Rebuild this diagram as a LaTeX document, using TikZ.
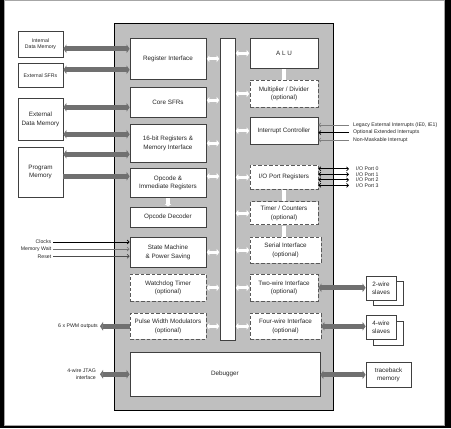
\documentclass[tikz,border=0pt]{standalone}
\usepackage{fontspec}
\setmainfont{Liberation Sans}
\usetikzlibrary{arrows.meta, positioning}

\newcommand{\blkfont}{\fontsize{6.3}{8.3}\selectfont}
\newcommand{\lblfont}{\fontsize{5.2}{6.6}\selectfont}
\newcommand{\pinfont}{\fontsize{5.2}{5.8}\selectfont}

\begin{document}
\begin{tikzpicture}[x=1pt, y=-1pt,
    blk/.style={draw=black!75, fill=white, line width=0.8pt, align=center,
      inner sep=1pt, font=\blkfont, text=black!85},
    optblk/.style={blk, draw=black!65, dash pattern=on 3.5pt off 2pt},
    extblk/.style={blk, font=\lblfont},
    lbl/.style={font=\lblfont, text=black!85, inner sep=1.5pt, align=right},
    pin/.style={font=\pinfont, text=black!85, inner ysep=1pt, inner xsep=4pt},
    bigarrow/.style={draw=black!56, line width=5pt,
      arrows={Triangle[width=8.5pt,length=3pt]-Triangle[width=8.5pt,length=3pt]}},
    bigarrowr/.style={bigarrow, arrows={-Triangle[width=8.5pt,length=3pt]}},
    busarrow/.style={draw=white, line width=3.2pt, shorten <=0.4pt, shorten >=0.4pt,
      arrows={Triangle[width=6.5pt,length=2.5pt]-Triangle[width=6.5pt,length=2.5pt]}},
    busbar/.style={draw=white, line width=3.2pt, shorten <=0.4pt, shorten >=0.4pt},
    wire/.style={line width=0.7pt, arrows={-Straight Barb[length=2pt,width=4pt]}},
    wire2/.style={wire, arrows={Straight Barb[length=2pt,width=4pt]-Straight Barb[length=2pt,width=4pt]}}
  ]
  % Frame
  \fill[black] (0,0) rectangle (451,428);
  \filldraw[fill=white, draw=black!35, line width=0.6pt] (4,0) rectangle (444,425);
  % Core
  \filldraw[fill=black!25, draw=black, line width=0.9pt] (114,23) rectangle (333,410);

  % Memories outside the core
  \node[extblk, minimum width=45pt, minimum height=26pt] (intmem) at (40.5,44) {Internal\\Data Memory};
  \node[extblk, minimum width=45pt, minimum height=24pt] (extsfr) at (40.5,75) {External SFRs};
  \node[blk, minimum width=45pt, minimum height=42pt] (extdata) at (40.5,119) {External\\Data Memory};
  \node[blk, minimum width=45pt, minimum height=50pt] (progmem) at (40.5,172) {Program\\Memory};

  % Left column
  \node[blk, minimum width=76pt, minimum height=41pt] (regif) at (168,58.5) {Register Interface};
  \node[blk, minimum width=76pt, minimum height=30pt] (coresfr) at (168,102) {Core SFRs};
  \node[blk, minimum width=76pt, minimum height=38pt] (reg16) at (168,143) {16-bit Registers \&\\Memory Interface};
  \node[blk, minimum width=76pt, minimum height=29pt] (opcode) at (168,182.5) {Opcode \&\\Immediate Registers};
  \node[blk, minimum width=76pt, minimum height=20pt] (opdec) at (168,217) {Opcode Decoder};
  \node[blk, minimum width=76pt, minimum height=30pt] (fsm) at (168,252) {State Machine\\\& Power Saving};
  \node[optblk, minimum width=76pt, minimum height=27pt] (wdt) at (168,287.5) {Watchdog Timer\\(optional)};
  \node[optblk, minimum width=76pt, minimum height=26pt] (pwm) at (168,326) {Pulse Width Modulators\\(optional)};
  \node[blk, minimum width=190pt, minimum height=44pt] (debug) at (225,374) {Debugger};

  % Internal bus
  \node[draw=black!75, fill=white, line width=0.8pt, minimum width=15pt, minimum height=302pt, inner sep=0pt] (bus) at (227.5,189) {};

  % Right column
  \node[blk, minimum width=68pt, minimum height=30pt] (alu) at (284,53) {A L U};
  \node[optblk, minimum width=68pt, minimum height=27pt] (mul) at (284,93.5) {Multiplier / Divider\\(optional)};
  \node[blk, minimum width=68pt, minimum height=27pt] (intc) at (284,130.5) {Interrupt Controller};
  \node[optblk, minimum width=68pt, minimum height=24pt] (ioport) at (284,177) {I/O Port Registers};
  \node[optblk, minimum width=68pt, minimum height=23pt] (timer) at (284,213) {Timer / Counters\\(optional)};
  \node[optblk, minimum width=71pt, minimum height=26pt] (serial) at (285.5,250) {Serial Interface\\(optional)};
  \node[optblk, minimum width=68pt, minimum height=27pt] (twowire) at (284,287.5) {Two-wire Interface\\(optional)};
  \node[optblk, minimum width=71pt, minimum height=26pt] (fourwire) at (285.5,326) {Four-wire Interface\\(optional)};

  % Slaves and traceback memory
  \node[blk, minimum width=30pt, minimum height=24pt] (slaves2back) at (388,293) {};
  \node[blk, minimum width=30pt, minimum height=24pt] (slaves2) at (381,288) {2-wire\\slaves};
  \node[blk, minimum width=30pt, minimum height=24pt] (slaves4back) at (388,333.5) {};
  \node[blk, minimum width=30pt, minimum height=24pt] (slaves4) at (381,327) {4-wire\\slaves};
  \node[blk, minimum width=45pt, minimum height=25pt] (trace) at (388.5,374.5) {traceback\\memory};

  % Pin labels
  \node[lbl, anchor=east] (clk) at (53,241.7) {Clocks};
  \node[lbl, anchor=east] (memwait) at (53,248.8) {Memory Wait};
  \node[lbl, anchor=east] (rst) at (53,256) {Reset};
  \node[lbl, anchor=east, inner xsep=2pt] (pwmout) at (100,326) {6 x PWM outputs};
  \node[lbl, anchor=east, inner xsep=4pt] (jtag) at (100,374) {4-wire JTAG\\interface};
  \node[pin, anchor=west] (irqleg) at (349,124.7) {Legacy External Interrupts (IE0, IE1)};
  \node[pin, anchor=west] (irqopt) at (349,132.3) {Optional Extended Interrupts};
  \node[pin, anchor=west] (irqnmi) at (349,139.7) {Non-Maskable Interrupt};
  \node[pin, anchor=west, inner xsep=7pt] (port0) at (349,168.5) {I/O Port 0};
  \node[pin, anchor=west, inner xsep=7pt] (port1) at (349,174) {I/O Port 1};
  \node[pin, anchor=west, inner xsep=7pt] (port2) at (349,179.5) {I/O Port 2};
  \node[pin, anchor=west, inner xsep=7pt] (port3) at (349,185) {I/O Port 3};

  % Memory buses
  \draw[bigarrow] ([yshift=-4.5]intmem.east) -- ([yshift=-4.5]intmem.east -| regif.west);
  \draw[bigarrow] ([yshift=5.5]extsfr.east) -- ([yshift=5.5]extsfr.east -| regif.west);
  \draw[bigarrow] ([yshift=-5]coresfr.west -| extdata.east) -- ([yshift=-5]coresfr.west);
  \draw[bigarrow] ([yshift=9]reg16.west -| extdata.east) -- ([yshift=9]reg16.west);
  \draw[bigarrow] ([yshift=-11]reg16.west -| progmem.east) -- ([yshift=-11]reg16.west);
  \draw[bigarrowr] ([yshift=6.5]opcode.west -| progmem.east) -- ([yshift=6.5]opcode.west);
  \draw[bigarrowr] (pwm.west) -- (pwmout.east);
  \draw[bigarrow] (jtag.east) -- (debug.west);
  \draw[bigarrow] (twowire.east) -- (twowire.east -| slaves2.west);
  \draw[bigarrow] (fourwire.east) -- (fourwire.east -| slaves4.west);
  \draw[bigarrow] (trace.west -| debug.east) -- (trace.west);

  % Bus links, left column
  \draw[busarrow] (regif.east) -- (regif.east -| bus.west);
  \draw[busarrow] ([yshift=2]coresfr.east) -- ([yshift=2]coresfr.east -| bus.west);
  \draw[busarrow] (reg16.east) -- (reg16.east -| bus.west);
  \draw[busarrow] ([yshift=6.5]opcode.east) -- ([yshift=6.5]opcode.east -| bus.west);
  \draw[busarrow] (fsm.east) -- (fsm.east -| bus.west);
  \draw[busarrow] (wdt.east) -- (wdt.east -| bus.west);
  \draw[busarrow] (pwm.east) -- (pwm.east -| bus.west);
  % Bus links, right column
  \draw[busarrow] (alu.west -| bus.east) -- (alu.west);
  \draw[busarrow] (mul.west -| bus.east) -- (mul.west);
  \draw[busarrow] (intc.west -| bus.east) -- (intc.west);
  \draw[busarrow] (ioport.west -| bus.east) -- (ioport.west);
  \draw[busarrow] (timer.west -| bus.east) -- (timer.west);
  \draw[busarrow] (serial.west -| bus.east) -- (serial.west);
  \draw[busarrow] (twowire.west -| bus.east) -- (twowire.west);
  \draw[busarrow] (fourwire.west -| bus.east) -- (fourwire.west);
  % Vertical links
  \draw[busarrow, arrows={-Triangle[width=6.5pt,length=2.5pt]}] (opcode.south) -- (opdec.north);
  \draw[busbar] (mul.north) -- (alu.south);
  \draw[busbar] (ioport.south) -- (timer.north);
  \draw[busbar] (timer.south) -- (timer.south |- serial.north);

  % Control inputs
  \draw[wire] (clk.east) -- (clk.east -| fsm.west);
  \draw[wire, draw=black!55] (memwait.east) -- (memwait.east -| fsm.west);
  \draw[wire, draw=black!70] (rst.east) -- (rst.east -| fsm.west);
  \draw[wire, draw=black!50] (irqleg.west) -- (irqleg.west -| intc.east);
  \draw[wire] (irqopt.west) -- (irqopt.west -| intc.east);
  \draw[wire, draw=black!50] (irqnmi.west) -- (irqnmi.west -| intc.east);
  \draw[wire2] (port0.west -| ioport.east) -- (port0.west);
  \draw[wire2] (port1.west -| ioport.east) -- (port1.west);
  \draw[wire2] (port2.west -| ioport.east) -- (port2.west);
  \draw[wire2] (port3.west -| ioport.east) -- (port3.west);
\end{tikzpicture}
\end{document}
